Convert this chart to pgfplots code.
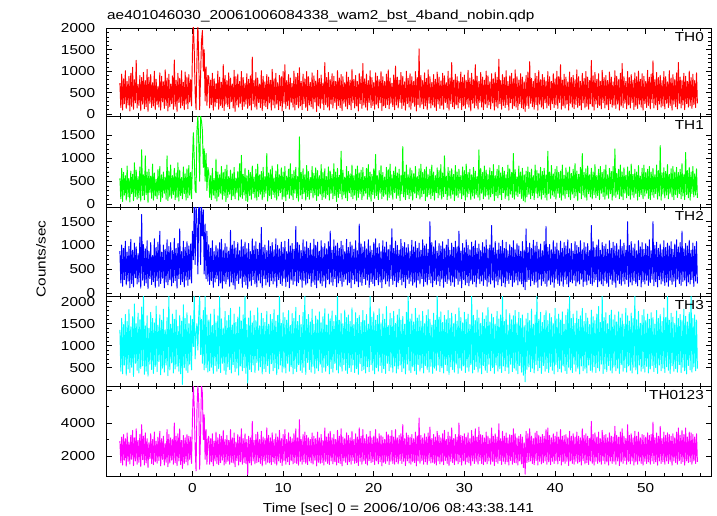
\documentclass[border=0pt]{standalone}
\usepackage{fontspec}
\setmainfont{Liberation Sans}[FakeStretch=1.18]
\usepackage{pgfplots}
\usepackage{pgfplotstable}
\pgfplotsset{compat=1.18}
\definecolor{qred}{RGB}{255,0,0}
\definecolor{qgreen}{RGB}{0,255,0}
\definecolor{qblue}{RGB}{0,0,255}
\definecolor{qcyan}{RGB}{0,255,255}
\definecolor{qmagenta}{RGB}{255,0,255}

\pgfplotstableread{
t a b c d e
-8.0 720 560 880 1360 2900
-7.9 150 120 210 420 1600
-7.8 930 780 1010 1620 3150
-7.7 90 60 140 360 1450
-7.6 820 690 940 1480 3300
-7.5 240 200 280 560 1750
-7.4 1010 620 1090 1710 3050
-7.3 130 90 170 330 1380
-7.2 760 830 860 1550 3400
-7.1 210 160 250 470 1680
-7.0 880 560 980 1820 2850
-6.9 70 50 110 390 1520
-6.8 950 720 1130 1430 3250
-6.7 180 230 200 510 1800
-6.6 1090 650 900 1660 3550
-6.5 110 80 130 300 1420
-6.4 800 900 1050 1950 3100
-6.3 260 170 320 600 1700
-6.2 1250 740 970 1500 3650
-6.1 140 110 190 440 1500
-6.0 690 600 830 1740 2950
-5.9 200 140 230 380 1620
-5.8 900 810 1180 1590 3300
-5.7 80 70 100 480 1350
-5.6 850 1180 1650 1880 3900
-5.5 230 190 270 540 1780
-5.4 970 640 1020 2150 3200
-5.3 120 100 160 350 1460
-5.2 780 1050 930 1450 3400
-5.1 170 210 210 420 1580
-5.0 1040 700 1100 1680 3050
-4.9 60 40 90 310 1300
-4.8 860 760 880 1390 2800
-4.7 250 260 300 580 1850
-4.6 920 610 1060 1760 3350
-4.5 150 130 180 460 1550
-4.4 730 870 790 1620 3000
-4.3 190 90 240 370 1480
-4.2 1000 680 1140 1520 3450
-4.1 100 180 120 530 1650
-4.0 810 540 960 1900 2900
-3.9 220 120 260 410 1560
-3.8 640 750 1070 1470 3150
-3.7 160 200 140 640 1720
-3.6 960 820 1300 1700 3500
-3.5 90 60 200 340 1400
-3.4 880 640 860 1580 3050
-3.3 280 150 310 490 1800
-3.2 750 700 1010 1830 3200
-3.1 130 240 110 400 1450
-3.0 1030 590 920 1360 2750
-2.9 200 110 230 560 1620
-2.8 840 1050 1120 1640 3600
-2.7 70 80 170 320 1350
-2.6 930 720 980 2150 3300
-2.5 170 170 280 450 1580
-2.4 700 850 1060 1490 3100
-2.3 240 130 150 610 1750
-2.2 890 620 890 1720 3000
-2.1 110 210 220 380 1500
-2.0 1260 780 1150 1600 4000
-1.9 180 100 260 470 1600
-1.8 790 680 940 1810 3200
-1.7 60 150 100 530 1420
-1.6 950 900 1040 1440 3350
-1.5 270 70 300 420 1700
-1.4 830 740 1350 1690 3650
-1.3 140 190 180 360 1480
-1.2 1010 580 870 1560 2950
-1.1 200 120 240 120 1250
-1.0 740 810 1090 1930 3250
-0.9 100 230 130 500 1550
-0.8 980 660 960 1620 3100
-0.7 230 90 270 440 1650
-0.6 860 770 1080 1750 3300
-0.5 120 140 160 390 1450
-0.4 920 840 990 1500 3200
-0.3 280 200 290 580 1800
-0.2 800 690 1030 1680 3150
-0.1 190 120 210 450 1550
0.0 1400 900 1300 1600 4200
0.1 2100 1550 700 980 6300
0.2 1500 1000 1850 2150 5000
0.3 500 300 600 700 2500
0.4 100 250 1850 1300 1100
0.5 1300 1600 1500 1500 4800
0.6 2100 1920 400 900 6300
0.7 1200 1300 1850 1700 5200
0.8 100 500 1850 2150 1200
0.9 900 1920 600 800 3500
1.0 1700 1800 1850 1600 6300
1.1 1950 1600 1200 600 5800
1.2 1000 800 1750 1800 3000
1.3 1500 1200 400 450 4500
1.4 300 500 1450 2150 1800
1.5 1100 1100 300 500 3600
1.6 200 300 1300 1700 1500
1.7 900 800 250 400 3000
1.8 880 700 1020 1580 3200
1.9 140 150 180 430 1500
2.0 790 620 940 1720 3050
2.1 220 100 260 510 1650
2.2 950 780 1100 1460 3350
2.3 90 200 120 370 1400
2.4 820 560 870 1830 2900
2.5 180 130 230 550 1700
2.6 710 980 1000 1540 3450
2.7 260 70 300 420 1550
2.8 1000 700 930 1680 3100
2.9 110 170 150 480 1480
3.0 860 640 1060 2150 3300
3.1 200 240 210 390 1600
3.2 740 820 1130 1610 3200
3.3 150 110 100 600 1750
3.4 1150 690 900 1400 3550
3.5 80 190 250 440 1450
3.6 900 760 1040 1780 3000
3.7 230 60 190 350 1550
3.8 780 850 970 1570 3250
3.9 170 150 290 520 1680
4.0 960 600 880 1690 2950
4.1 120 220 140 460 1500
4.2 840 740 1320 1850 3600
4.3 290 100 230 380 1620
4.4 700 660 1010 1470 3100
4.5 140 180 170 570 1580
4.6 1020 800 1090 1720 3400
4.7 60 120 80 410 1350
4.8 870 570 950 1530 2850
4.9 210 260 260 490 1720
5.0 930 710 1060 1650 3300
5.1 160 90 200 330 1450
5.2 760 880 890 1880 3150
5.3 250 160 310 540 1650
5.4 990 1060 1120 1560 3650
5.5 100 130 120 430 1500
5.6 850 650 980 1700 3050
5.7 180 200 240 500 1600
5.8 720 780 1070 2150 3350
5.9 230 80 170 370 1550
6.0 940 620 930 1480 3000
6.1 130 60 90 150 850
6.2 810 740 1040 1630 3200
6.3 200 190 250 460 1580
6.4 890 690 870 1790 3100
6.5 90 110 160 410 1450
6.6 1330 830 1140 1520 4100
6.7 240 230 280 560 1700
6.8 780 590 990 1690 2950
6.9 160 140 190 390 1520
7.0 970 760 1080 1570 3300
7.1 110 90 130 620 1600
7.2 840 870 920 1860 3450
7.3 270 170 270 440 1650
7.4 700 640 1050 1450 3000
7.5 150 220 210 520 1550
7.6 1010 710 1380 1740 3500
7.7 80 100 110 360 1400
7.8 880 800 960 1620 3150
7.9 200 160 300 480 1700
8.0 750 600 1010 1530 3050
8.1 170 240 170 410 1500
8.2 920 1100 890 1780 3700
8.3 120 70 230 550 1620
8.4 860 680 1100 1490 3250
8.5 260 190 140 370 1580
8.6 790 750 980 1710 3100
8.7 90 120 260 590 1480
8.8 1040 830 1060 1600 3400
8.9 210 210 190 430 1650
9.0 820 570 910 1820 3000
9.1 140 150 250 500 1550
9.2 950 720 1140 1560 3350
9.3 230 90 120 340 1450
9.4 730 860 1000 1690 3150
9.5 100 180 280 470 1700
9.6 900 640 930 2150 3550
9.7 190 250 200 560 1600
9.8 870 790 1070 1510 3050
9.9 70 110 160 400 1420
10.0 990 700 960 1750 3300
10.1 250 160 300 490 1700
10.2 1150 820 1090 1640 3600
10.3 130 80 140 380 1500
10.4 780 610 870 1580 3000
10.5 200 220 240 600 1650
10.6 920 760 1130 1800 3400
10.7 110 130 110 420 1480
10.8 840 880 990 1460 3150
10.9 270 190 270 530 1720
11.0 710 650 1040 1730 3050
11.1 160 100 180 360 1520
11.2 1000 730 920 1620 3350
11.3 90 240 250 480 1600
11.4 860 800 1400 1870 3650
11.5 220 140 150 410 1550
11.6 950 600 1060 1550 3100
11.7 140 70 220 570 1450
11.8 1080 1460 1010 1690 4200
11.9 190 200 290 440 1680
12.0 760 690 890 1480 3000
12.1 100 120 120 390 1500
12.2 930 770 1120 1760 3300
12.3 240 230 260 510 1650
12.4 820 640 970 2150 3450
12.5 150 90 170 350 1550
12.6 990 840 1080 1600 3250
12.7 80 170 210 620 1480
12.8 870 710 940 1710 3100
12.9 210 110 300 460 1700
13.0 740 580 1050 1540 3000
13.1 170 250 140 400 1580
13.2 960 820 910 1830 3400
13.3 120 140 230 530 1500
13.4 890 670 1130 1490 3200
13.5 280 200 180 370 1750
13.6 770 790 1000 1680 3050
13.7 60 80 110 490 1400
13.8 1020 730 1070 1590 3450
13.9 190 180 270 430 1620
14.0 830 620 880 1770 3100
14.1 130 220 200 580 1550
14.2 910 860 1100 1520 3300
14.3 250 100 150 390 1600
14.4 720 690 960 1660 2950
14.5 100 160 250 510 1450
14.6 1200 770 1040 1840 3700
14.7 220 130 120 420 1680
14.8 850 600 930 1470 3150
14.9 160 210 280 550 1550
15.0 970 810 1080 1720 3350
15.1 90 90 190 360 1480
15.2 800 720 1300 1610 3500
15.3 230 240 230 480 1700
15.4 940 650 900 1790 3100
15.5 140 120 160 400 1520
15.6 880 880 1120 1550 3300
15.7 270 190 300 600 1650
15.8 760 700 990 1690 3000
15.9 110 60 130 450 1450
16.0 1010 780 1050 2150 3550
16.1 200 150 210 380 1600
16.2 840 630 940 1580 3200
16.3 150 230 260 530 1550
16.4 920 1150 1090 1730 3650
16.5 80 110 140 420 1400
16.6 870 740 1000 1500 3150
16.7 250 200 240 570 1700
16.8 730 590 870 1810 3050
16.9 180 140 290 440 1620
17.0 980 820 1130 1640 3400
17.1 120 80 170 370 1480
17.2 860 710 960 1700 3250
17.3 220 250 220 500 1650
17.4 790 660 1070 1550 3100
17.5 100 170 110 410 1500
17.6 1040 850 1010 1860 3500
17.7 260 120 280 560 1720
17.8 810 620 920 1480 3000
17.9 140 200 190 390 1550
18.0 900 760 1100 1750 3350
18.1 190 90 250 480 1600
18.2 760 830 890 1620 3150
18.3 70 150 130 350 1420
18.4 950 680 1450 1690 3700
18.5 240 230 230 590 1680
18.6 870 740 1030 1530 3200
18.7 130 100 160 430 1500
18.8 1180 800 970 1800 3600
18.9 210 180 300 460 1700
19.0 820 600 1080 1570 3050
19.1 160 240 180 380 1550
19.2 930 780 930 1710 3300
19.3 90 110 270 520 1450
19.4 780 860 1120 1490 3150
19.5 270 160 120 410 1720
19.6 1010 700 990 2150 3500
19.7 150 70 240 570 1600
19.8 850 650 900 1650 3100
19.9 200 210 200 440 1650
20.0 740 770 1060 1770 3200
20.1 110 130 150 360 1480
20.2 960 1080 1140 1580 3600
20.3 230 190 280 500 1700
20.4 880 620 950 1690 3050
20.5 140 100 170 420 1520
20.6 800 730 1040 1840 3350
20.7 260 240 230 550 1650
20.8 990 840 880 1520 3250
20.9 80 120 110 390 1400
21.0 870 690 1100 1720 3150
21.1 190 170 290 480 1620
21.2 760 590 970 1600 3000
21.3 150 220 190 370 1550
21.4 930 800 1070 1890 3450
21.5 220 90 250 600 1700
21.6 1030 750 920 1460 3300
21.7 120 150 140 430 1480
21.8 840 870 1010 1740 3200
21.9 250 200 300 510 1680
22.0 720 640 1350 1620 3550
22.1 170 110 180 400 1550
22.2 910 720 940 1780 3150
22.3 100 250 260 540 1500
22.4 1120 810 1090 1510 3600
22.5 210 130 130 380 1650
22.6 860 680 1000 1700 3100
22.7 140 190 220 470 1520
22.8 790 760 900 1830 3250
22.9 270 80 280 560 1720
23.0 970 620 1130 1580 3350
23.1 130 230 170 410 1550
23.2 880 1250 980 1670 3900
23.3 200 160 240 490 1680
23.4 750 700 1060 1490 3050
23.5 90 100 110 360 1420
23.6 1000 850 950 1760 3400
23.7 240 210 290 580 1700
23.8 830 640 1020 2150 3250
23.9 160 120 200 440 1580
24.0 940 790 880 1610 3150
24.1 110 180 250 390 1500
24.2 870 730 1110 1720 3300
24.3 260 90 160 520 1650
24.4 760 660 970 1540 3050
24.5 180 240 230 430 1600
24.6 990 820 1080 1850 3450
24.7 70 140 120 350 1400
24.8 850 600 940 1630 3200
24.9 220 200 270 570 1700
25.0 1520 770 1050 1700 4300
25.1 150 110 190 420 1550
25.2 900 870 900 1560 3250
25.3 230 170 300 500 1720
25.4 780 690 1120 1780 3100
25.5 120 230 140 380 1500
25.6 960 750 990 1500 3350
25.7 190 80 240 550 1650
25.8 830 810 1030 1690 3150
25.9 100 160 170 460 1480
26.0 1030 640 920 1820 3400
26.1 250 210 280 400 1700
26.2 870 760 1500 1600 3750
26.3 140 120 210 530 1580
26.4 740 850 1060 1470 3050
26.5 210 190 130 370 1620
26.6 920 700 970 1740 3300
26.7 160 90 260 490 1550
26.8 810 620 1100 1580 3150
26.9 80 250 180 440 1450
27.0 980 790 880 2150 3500
27.1 230 140 250 560 1700
27.2 860 730 1040 1650 3250
27.3 130 200 150 410 1520
27.4 770 860 990 1770 3100
27.5 200 110 290 500 1650
27.6 950 680 1080 1530 3350
27.7 110 170 120 380 1480
27.8 890 1050 930 1690 3550
27.9 270 230 240 570 1720
28.0 730 610 1010 1590 3000
28.1 150 100 200 430 1550
28.2 1000 800 1130 1800 3450
28.3 90 180 270 350 1420
28.4 840 720 900 1620 3200
28.5 240 130 160 520 1680
28.6 1200 770 1050 1740 3700
28.7 170 220 230 460 1600
28.8 790 650 960 1500 3050
28.9 120 80 140 400 1480
29.0 930 840 1090 1710 3300
29.1 210 190 300 580 1700
29.2 870 700 970 1560 3150
29.3 140 150 180 370 1520
29.4 760 760 1300 1860 4000
29.5 260 240 250 490 1650
29.6 980 620 880 1640 3250
29.7 100 120 110 440 1450
29.8 850 810 1040 1520 3200
29.9 190 200 280 540 1700
30.0 910 730 950 1760 3350
30.1 130 90 170 390 1500
30.2 780 870 1120 1600 3150
30.3 230 160 220 510 1650
30.4 1020 690 1000 1720 3400
30.5 160 230 150 420 1580
30.6 840 760 910 1480 3050
30.7 70 100 260 570 1420
30.8 950 640 1070 2150 3550
30.9 250 180 190 380 1700
31.0 800 800 980 1690 3200
31.1 140 130 240 460 1550
31.2 1150 720 1100 1570 3650
31.3 200 210 130 530 1680
31.4 880 600 940 1810 3150
31.5 110 150 290 400 1500
31.6 760 1180 1030 1630 3750
31.7 270 90 200 490 1720
31.8 970 780 890 1510 3300
31.9 160 240 250 360 1550
32.0 860 690 1060 1750 3250
32.1 100 120 160 550 1480
32.2 790 830 970 1600 3100
32.3 230 170 280 440 1650
32.4 1000 740 1120 1680 3450
32.5 150 200 140 390 1520
32.6 890 650 930 1870 3200
32.7 210 110 230 580 1700
32.8 750 790 1010 1540 3050
32.9 120 160 190 430 1500
33.0 940 710 1420 1720 3700
33.1 260 230 270 500 1680
33.2 820 860 950 1640 3200
33.3 90 80 120 370 1420
33.4 970 620 1080 1490 3350
33.5 180 190 250 560 1650
33.6 860 760 900 1780 3150
33.7 140 140 170 420 1550
33.8 1280 840 1050 1610 3950
33.9 240 210 290 480 1720
34.0 780 680 980 1700 3050
34.1 110 100 150 390 1480
34.2 920 800 1110 2150 3500
34.3 200 250 220 540 1680
34.4 850 720 940 1550 3200
34.5 150 130 130 430 1520
34.6 1010 640 1070 1820 3400
34.7 220 180 260 510 1650
34.8 760 850 890 1470 3100
34.9 90 90 200 370 1450
35.0 890 770 1020 1730 3300
35.1 260 220 280 580 1720
35.2 950 690 960 1590 3250
35.3 130 150 140 410 1500
35.4 820 1100 1100 1680 3650
35.5 190 110 230 490 1600
35.6 1030 750 910 1800 3350
35.7 160 200 270 440 1580
35.8 870 600 1040 1520 3100
35.9 100 170 170 360 1450
36.0 790 830 990 1760 3200
36.1 240 230 250 550 1700
36.2 940 700 880 1620 3300
36.3 150 130 190 400 1520
36.4 860 780 1080 1700 3150
36.5 120 80 130 330 1300
36.6 750 640 900 1450 2800
36.7 60 50 70 180 900
36.8 900 720 1350 1610 3500
36.9 200 160 240 460 1600
37.0 980 810 960 1740 3350
37.1 130 220 280 520 1650
37.2 1220 690 1050 1570 3650
37.3 250 120 150 410 1700
37.4 830 760 940 1830 3200
37.5 170 190 260 490 1550
37.6 760 620 1110 1490 3050
37.7 110 100 180 380 1480
37.8 950 850 990 1700 3400
37.9 220 240 230 570 1720
38.0 880 730 1070 2150 3500
38.1 90 140 120 430 1450
38.2 1010 670 920 1600 3250
38.3 230 180 290 500 1680
38.4 800 800 1030 1760 3150
38.5 160 110 160 370 1520
38.6 920 710 890 1530 3300
38.7 120 210 250 550 1600
38.8 850 780 1080 1690 3200
38.9 260 150 200 420 1700
39.0 770 640 1400 1800 3600
39.1 140 90 140 480 1500
39.2 990 1150 960 1570 3700
39.3 200 230 270 390 1650
39.4 870 700 1020 1730 3250
39.5 100 130 180 530 1480
39.6 760 840 910 1640 3100
39.7 240 200 230 440 1680
39.8 940 660 1100 1500 3350
39.9 150 170 120 360 1550
40.0 820 760 970 1850 3200
40.1 210 110 290 570 1700
40.2 1000 820 1050 1610 3450
40.3 130 240 200 410 1520
40.4 870 690 890 1720 3150
40.5 270 150 160 480 1720
40.6 1150 720 1090 1580 3600
40.7 110 90 250 400 1450
40.8 790 850 940 1770 3200
40.9 190 200 140 540 1650
41.0 930 630 1060 1490 3250
41.1 140 130 280 430 1550
41.2 860 790 990 1690 3300
41.3 230 230 190 370 1680
41.4 750 700 1120 1830 3100
41.5 90 160 130 510 1420
41.6 980 810 930 2150 3500
41.7 250 100 240 450 1700
41.8 850 670 1040 1620 3200
41.9 160 220 210 390 1550
42.0 900 760 880 1720 3350
42.1 120 140 270 580 1500
42.2 800 880 1080 1510 3150
42.3 220 180 150 420 1680
42.4 1030 720 1000 1790 3450
42.5 150 80 230 490 1550
42.6 870 650 960 1600 3200
42.7 200 250 190 360 1650
42.8 760 800 1100 1680 3100
42.9 100 120 290 540 1450
43.0 950 1100 910 1850 3650
43.1 260 200 140 430 1720
43.2 830 690 1060 1550 3250
43.3 140 150 240 470 1520
43.4 990 770 970 1740 3350
43.5 180 90 170 380 1600
43.6 860 830 1040 1630 3200
43.7 110 230 270 560 1480
43.8 780 640 890 1480 3050
43.9 240 160 200 440 1700
44.0 1250 780 1420 1810 4100
44.1 170 120 160 400 1550
44.2 890 700 1080 1660 3300
44.3 90 210 230 520 1450
44.4 970 860 950 1570 3400
44.5 230 140 280 390 1680
44.6 810 620 1010 1720 3150
44.7 150 190 130 500 1550
44.8 940 760 1120 1890 3450
44.9 200 100 250 430 1650
45.0 760 820 900 1530 3050
45.1 120 240 190 580 1500
45.2 1020 690 1060 2150 3550
45.3 260 170 150 370 1720
45.4 850 750 980 1640 3250
45.5 140 110 260 470 1520
45.6 900 850 1030 1750 3300
45.7 210 200 200 410 1650
45.8 780 640 920 1500 3100
45.9 100 130 140 550 1450
46.0 980 780 1100 1690 3400
46.1 240 230 290 440 1700
46.2 860 710 940 1810 3200
46.3 160 90 180 380 1550
46.4 750 820 1070 1590 3150
46.5 200 180 230 520 1650
46.6 1010 1200 990 1700 3800
46.7 130 150 120 430 1500
46.8 880 670 1040 1540 3250
46.9 230 220 270 490 1700
47.0 800 760 910 1770 3150
47.1 90 120 200 370 1420
47.2 950 850 1120 1630 3450
47.3 190 170 160 570 1650
47.4 1180 700 980 1720 3650
47.5 150 100 250 420 1550
47.6 870 790 1050 1490 3200
47.7 250 240 190 500 1720
47.8 760 630 900 1850 3050
47.9 120 140 280 400 1500
48.0 990 810 1500 1680 3900
48.1 210 190 140 540 1680
48.2 850 720 1000 1560 3250
48.3 140 110 230 440 1520
48.4 920 870 1080 1740 3350
48.5 270 200 170 380 1700
48.6 790 650 950 1620 3100
48.7 100 150 260 510 1450
48.8 960 760 1030 2150 3500
48.9 180 230 200 450 1650
49.0 870 700 890 1590 3200
49.1 130 90 150 360 1500
49.2 1000 840 1100 1780 3450
49.3 230 170 280 560 1700
49.4 810 610 970 1510 3100
49.5 160 210 130 420 1550
49.6 940 780 1060 1690 3300
49.7 90 120 240 480 1450
49.8 880 850 920 1820 3250
49.9 240 180 190 400 1680
50.0 760 690 1040 1570 3150
50.1 150 240 270 530 1550
50.2 1020 760 980 1720 3400
50.3 200 130 160 380 1650
50.4 860 820 1120 1600 3250
50.5 120 100 220 470 1500
50.6 930 700 890 1750 3300
50.7 260 200 290 550 1700
50.8 1240 780 1500 1640 4050
50.9 140 150 150 410 1550
51.0 800 640 1000 1490 3100
51.1 210 230 240 500 1650
51.2 970 850 1070 1800 3400
51.3 100 110 130 370 1450
51.4 850 730 940 1620 3200
51.5 230 180 280 560 1700
51.6 900 1270 1030 1710 3800
51.7 160 90 190 430 1550
51.8 780 680 910 1550 3050
51.9 190 220 250 490 1650
52.0 990 790 1100 1860 3450
52.1 120 140 160 390 1500
52.2 870 710 960 1640 3250
52.3 250 200 230 520 1700
52.4 750 860 1050 2150 3400
52.5 150 120 140 440 1550
52.6 1010 650 990 1580 3300
52.7 200 240 270 370 1680
52.8 840 770 1080 1740 3200
52.9 90 160 180 540 1450
53.0 920 820 920 1650 3350
53.1 230 100 250 420 1700
53.2 800 700 1030 1500 3100
53.3 170 210 130 480 1600
53.4 960 800 1120 1790 3450
53.5 120 150 290 400 1500
53.6 1200 690 970 1620 3700
53.7 250 230 200 570 1720
53.8 860 760 1060 1710 3250
53.9 140 120 160 390 1550
54.0 790 880 1300 1580 3550
54.1 210 180 240 510 1650
54.2 950 640 930 1830 3300
54.3 100 100 270 430 1450
54.4 880 1120 1040 1670 3700
54.5 240 210 150 360 1700
54.6 760 730 990 1540 3150
54.7 160 140 230 550 1600
54.8 1000 800 1110 1760 3450
54.9 190 90 190 450 1650
55.0 850 700 900 2150 3400
55.1 130 230 280 400 1500
55.2 930 820 1050 1620 3300
55.3 220 160 140 520 1700
55.4 780 660 980 1700 3150
55.5 150 200 250 430 1550
55.6 960 770 1080 1580 3350
55.7 250 140 200 480 1650
}\lc

\pgfplotsset{
  panel/.style={
    scale only axis, width=604.7bp, anchor=north west,
    xmin=-9.5, xmax=57.2,
    xtick={0,10,...,50}, minor xtick={-8,-6,...,56},
    tick align=inside, xtick pos=both, ytick pos=both,
    major tick length=5.5bp, minor tick length=3bp,
    axis line style={line width=0.8bp},
    every tick/.append style={line width=0.6bp, black},
    /pgf/number format/assume math mode=true,
    /pgf/number format/1000 sep={},
    every tick label/.append style={font=\fontsize{13.05}{15}\selectfont},
    yticklabel style={inner sep=0pt, xshift=-11bp},
    xticklabel style={inner sep=0pt, yshift=-7bp},
    xticklabels={},
  },
  trace/.style={line width=0.95bp, line join=round, mark=none},
}

\begin{document}
\begin{tikzpicture}[font=\fontsize{13.05}{15}\selectfont]
\useasboundingbox (0,0) rectangle (717bp,-516bp);

\begin{axis}[panel, at={(106.3bp,-28bp)}, height=88bp,
  ymin=-47, ymax=2007, ytick={0,500,...,2000}, minor y tick num=4]
\addplot[trace, qred] table[x=t, y=a] {\lc};
\node[anchor=north east, inner sep=0pt] at ([xshift=-7bp,yshift=-4bp]rel axis cs:1,1) {TH0};
\end{axis}

\begin{axis}[panel, at={(106.3bp,-116bp)}, height=91bp,
  ymin=-58, ymax=1912, ytick={0,500,...,1500}, minor y tick num=4]
\addplot[trace, qgreen] table[x=t, y=b] {\lc};
\node[anchor=north east, inner sep=0pt] at ([xshift=-7bp,yshift=-4bp]rel axis cs:1,1) {TH1};
\end{axis}

\begin{axis}[panel, at={(106.3bp,-207bp)}, height=89bp,
  ymin=-63, ymax=1809, ytick={0,500,...,1500}, minor y tick num=4]
\addplot[trace, qblue] table[x=t, y=c] {\lc};
\node[anchor=north east, inner sep=0pt] at ([xshift=-7bp,yshift=-4bp]rel axis cs:1,1) {TH2};
\end{axis}

\begin{axis}[panel, at={(106.3bp,-296bp)}, height=90bp,
  ymin=84, ymax=2130, ytick={500,1000,1500,2000}, minor y tick num=4]
\addplot[trace, qcyan] table[x=t, y=d] {\lc};
\node[anchor=north east, inner sep=0pt] at ([xshift=-7bp,yshift=-4bp]rel axis cs:1,1) {TH3};
\end{axis}

\begin{axis}[panel, at={(106.3bp,-386bp)}, height=90bp,
  ymin=788, ymax=6242, ytick={2000,4000,6000}, minor y tick num=1,
  xticklabels={0,10,20,30,40,50}]
\addplot[trace, qmagenta] table[x=t, y=e] {\lc};
\node[anchor=north east, inner sep=0pt] at ([xshift=-7bp,yshift=-4bp]rel axis cs:1,1) {TH0123};
\end{axis}

\node[anchor=base west, inner sep=0pt] at (107bp,-19.3bp) {ae401046030\_20061006084338\_wam2\_bst\_4band\_nobin.qdp};
\node[rotate=90, inner sep=0pt] at (41bp,-259bp) {Counts/sec};
\node[anchor=base, inner sep=0pt] at (398.5bp,-512bp) {Time [sec] 0 = 2006/10/06 08:43:38.141};
\end{tikzpicture}
\end{document}
